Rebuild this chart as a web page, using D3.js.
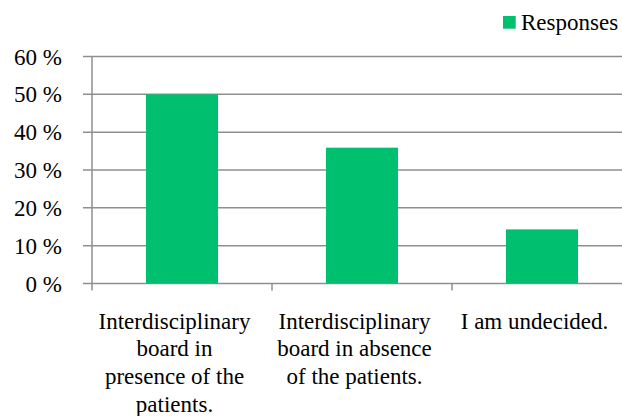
<!DOCTYPE html>
<html>
<head>
<meta charset="utf-8">
<script src="https://cdn.jsdelivr.net/npm/d3@7"></script>
<style>
  body { margin: 0; }
  svg text, svg tspan, .serif { font-family: "Times New Roman", "Liberation Serif", Tinos, serif !important; }
</style>
</head>
<body>
<svg id="fig" width="622" height="416"></svg>
<script>
const categories = [
  "Interdisciplinary\nboard in\npresence of the\npatients.",
  "Interdisciplinary\nboard in absence\nof the patients.",
  "I am undecided."
];
const values = [50, 35.9, 14.3];
const yTicks = [0, 10, 20, 30, 40, 50, 60];
const seriesName = "Responses";

const W = 622, H = 416;
const mLeft = 92, mRight = 632, mTop = 56.5, mBottom = 283.5;
const green = "#00BF6F", grid = "#8f8f8f", textColor = "#000";
const FONT = "'Times New Roman'";
const FS = 23;

const svg = d3.select("#fig");

const x = d3.scaleBand().domain(categories).range([mLeft, mRight]).paddingInner(0).paddingOuter(0);
const y = d3.scaleLinear().domain([0, 60]).range([mBottom, mTop]);

// gridlines + y labels
const gy = svg.append("g");
gy.selectAll("line.grid").data(yTicks).join("line")
  .attr("class", "grid")
  .attr("x1", mLeft - 9).attr("x2", W)
  .attr("y1", d => y(d)).attr("y2", d => y(d))
  .attr("stroke", grid).attr("stroke-width", 1.5);
gy.selectAll("text").data(yTicks).join("text")
  .attr("class", "serif")
  .attr("x", 62).attr("y", d => y(d)).attr("dy", "0.35em")
  .attr("text-anchor", "end")
  .attr("font-size", FS).attr("font-family", FONT).style("font-family", FONT)
  .attr("fill", textColor)
  .text(d => d + " %");

// bars
const barW = x.bandwidth() * 0.4;
svg.append("g").selectAll("rect").data(values).join("rect")
  .attr("x", (d, i) => x(categories[i]) + (x.bandwidth() - barW) / 2)
  .attr("y", d => y(d))
  .attr("width", barW)
  .attr("height", d => y(0) - y(d))
  .attr("fill", green);

// y axis line
svg.append("line")
  .attr("x1", mLeft).attr("x2", mLeft)
  .attr("y1", y(60)).attr("y2", y(0) + 7)
  .attr("stroke", grid).attr("stroke-width", 1.5);

// category ticks between bands
svg.append("g").selectAll("line").data(categories.slice(1)).join("line")
  .attr("x1", d => x(d)).attr("x2", d => x(d))
  .attr("y1", y(0)).attr("y2", y(0) + 7)
  .attr("stroke", grid).attr("stroke-width", 1.5);

// category labels
const cl = svg.append("g");
categories.forEach(c => {
  const t = cl.append("text")
    .attr("class", "serif")
    .attr("text-anchor", "middle")
    .attr("font-size", FS).attr("font-family", FONT).style("font-family", FONT)
    .attr("fill", textColor);
  c.split("\n").forEach((line, i) => {
    t.append("tspan")
      .attr("class", "serif")
      .attr("x", x(c) + x.bandwidth() / 2 - 7.5)
      .attr("y", 328.5 + i * 27.7)
      .text(line);
  });
});

// legend
svg.append("rect").attr("x", 503).attr("y", 16).attr("width", 12.7).attr("height", 12.7).attr("fill", green);
svg.append("text").attr("class", "serif").attr("x", 521).attr("y", 30)
  .attr("font-size", FS).attr("font-family", FONT).style("font-family", FONT)
  .attr("fill", textColor).text(seriesName);
</script>
</body>
</html>
